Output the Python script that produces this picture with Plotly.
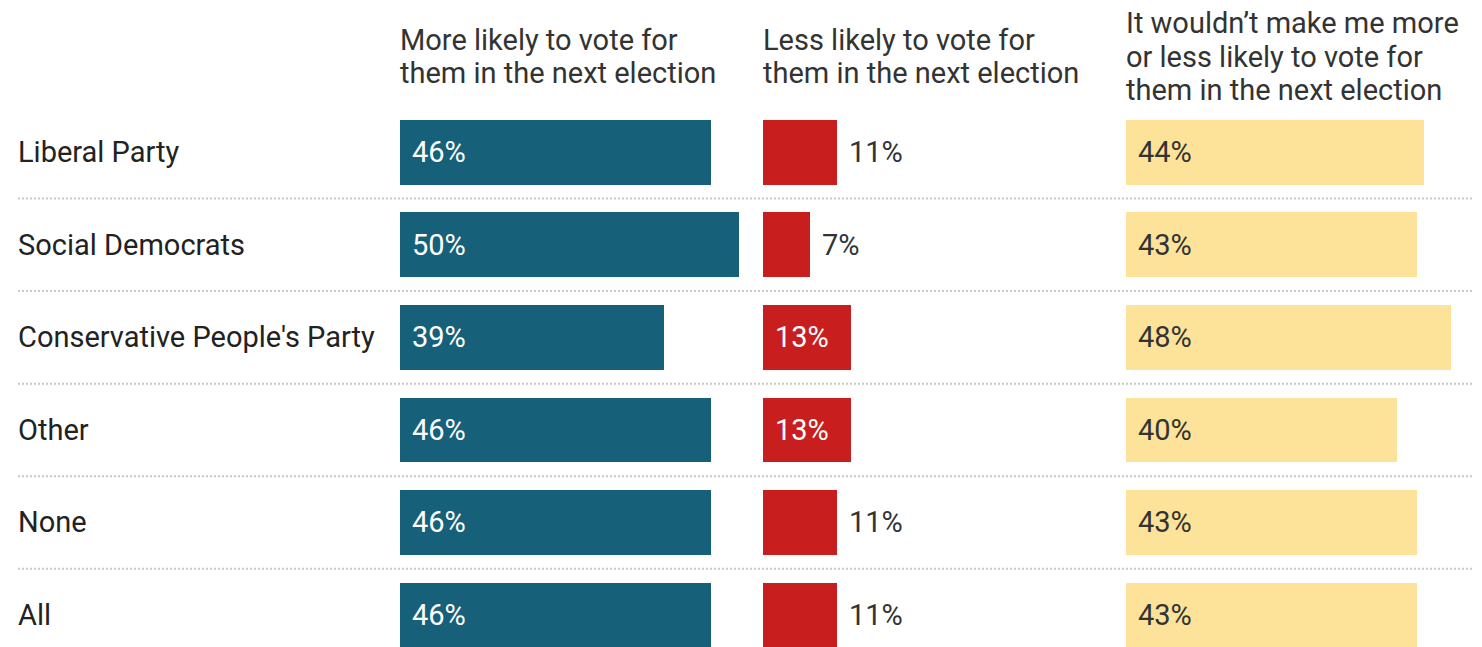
import plotly.graph_objects as go

categories = ["Liberal Party", "Social Democrats", "Conservative People's Party", "Other", "None", "All"]
more_likely = [46, 50, 39, 46, 46, 46]
less_likely = [11, 7, 13, 13, 11, 11]
no_difference = [44, 43, 48, 40, 43, 43]
headers = [
    ["More likely to vote for", "them in the next election"],
    ["Less likely to vote for", "them in the next election"],
    ["It wouldn’t make me more", "or less likely to vote for", "them in the next election"],
]
colors = ["#17607a", "#c81e1e", "#fde29a"]
inside_text_colors = ["#ffffff", "#ffffff", "#333333"]
series = [more_likely, less_likely, no_difference]

W, H = 1482, 647
OFF = 8  # page body margin
PX_PER_PCT = 6.77
col_left = [400 - OFF, 763 - OFF, 1126 - OFF]
col_range = [52, 50, 52]
top_px = 106 - OFF
row_pitch = 92.56
last_row_center = 615 - OFF
FONT = "Roboto"
FS = 29
plot_h = H - top_px


def paper_y(p):
    return 1 + (top_px - p) / plot_h


fig = go.Figure()
annotations = []
rows = list(range(len(categories)))

for c in range(3):
    xa = "x" if c == 0 else f"x{c+1}"
    fig.add_trace(go.Bar(
        x=series[c], y=rows, orientation="h", xaxis=xa, yaxis="y",
        marker=dict(color=colors[c], line=dict(width=0)), width=0.70,
        hoverinfo="skip", showlegend=False,
    ))
    for i, v in enumerate(series[c]):
        inside = v * PX_PER_PCT >= 82
        annotations.append(dict(
            x=0 if inside else v, y=i, xref=xa, yref="y",
            text=f"{v}%", showarrow=False, xanchor="left", yanchor="middle",
            xshift=10,
            font=dict(family=FONT, size=FS, color=inside_text_colors[c] if inside else "#333333"),
        ))
    lines = headers[c]
    n = len(lines)
    for k, line in enumerate(lines):
        center = (56.5 - OFF) + (k - (n - 1) / 2) * 33.5
        annotations.append(dict(
            x=(col_left[c] - 2) / W, y=paper_y(center), xref="paper", yref="paper",
            text=line, showarrow=False, xanchor="left", yanchor="middle", align="left",
            font=dict(family=FONT, size=FS, color="#333333"),
        ))

for i, cat in enumerate(categories):
    annotations.append(dict(
        x=(18 - OFF - 2) / W, y=i, xref="paper", yref="y", text=cat, showarrow=False,
        xanchor="left", yanchor="middle", font=dict(family=FONT, size=FS, color="#222222"),
    ))

shapes = []
for i in range(len(categories) - 1):
    shapes.append(dict(
        type="line", xref="paper", yref="y", x0=(18 - OFF) / W, x1=(1476 - OFF) / W,
        y0=i + 0.5, y1=i + 0.5,
        line=dict(color="#c8c8c8", width=2, dash="2px,2px"), layer="below",
    ))

layout = dict(
    width=W, height=H,
    margin=dict(l=0, r=0, t=top_px, b=0),
    paper_bgcolor="white", plot_bgcolor="white",
    annotations=annotations, shapes=shapes,
    bargap=0,
    yaxis=dict(range=[5 + (H - last_row_center) / row_pitch, -0.5], visible=False, fixedrange=True),
    font=dict(family=FONT),
)
for c in range(3):
    key = "xaxis" if c == 0 else f"xaxis{c+1}"
    x0 = col_left[c] / W
    x1 = (col_left[c] + col_range[c] * PX_PER_PCT) / W
    layout[key] = dict(domain=[x0, min(x1, 1)], range=[0, col_range[c]], visible=False,
                       fixedrange=True, anchor="y")

fig.update_layout(**layout)
fig.write_html("out.html")
